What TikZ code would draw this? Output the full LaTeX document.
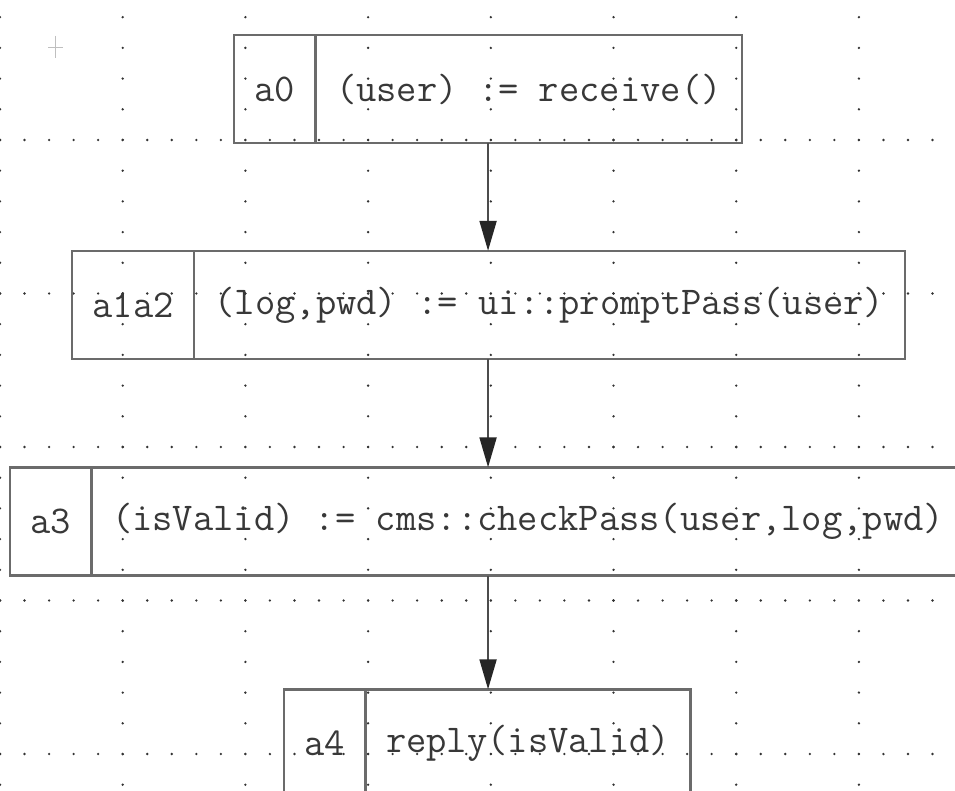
\documentclass[tikz,border=0pt]{standalone}
\usepackage{fontspec}
\usepackage{tikz}
\usetikzlibrary{fit, positioning, arrows.meta}
\newcommand{\cfont}{\ttfamily\fontsize{39.4}{46}\selectfont}

\begin{document}
\begin{tikzpicture}[x=1pt, y=-1pt,
    >={Triangle[length=30pt, width=17pt, color=black!85]},
    box/.style={draw=black!58, line width=2.5pt, outer sep=0pt,
                minimum height=108pt, inner xsep=20.5pt, inner ysep=0pt,
                font=\cfont, text=black!78},
    tagbox/.style={box},
    codebox/.style={box},
    flow/.style={->, draw=black!70, line width=2pt},
    gdot/.style={black!80}]

    \fill[white] (0,0) rectangle (955,791);
    \useasboundingbox (0,0) rectangle (955,791);
    \clip (0,0) rectangle (955,791);

    % grid
    \foreach \i in {0,...,7}
      \foreach \k in {1,...,26}
        \fill[gdot] (\i*122.7, -13.5+\k*30.7) circle (1.3pt);
    \foreach \r in {1,...,5}
      \foreach \j in {0,...,39}
        \fill[gdot] (\j*24.54, -13.5+\r*153.5) circle (1.3pt);
    \draw[black!25, line width=0.8pt] (48,47) -- (63,47) (55,36) -- (55,58);

    % activities
    \node[tagbox, anchor=west] (a0tag) at (234,89) {a0};
    \node[codebox, right=0pt of a0tag] (a0code) {(user) := receive()};
    \node[fit=(a0tag)(a0code), inner sep=0pt] (a0) {};

    \node[tagbox, anchor=west] (a1a2tag) at (72,305) {a1a2};
    \node[codebox, right=0pt of a1a2tag] (a1a2code)
      {(log,pwd) := ui::promptPass(user)};
    \node[fit=(a1a2tag)(a1a2code), inner sep=0pt] (a1a2) {};

    \node[tagbox, anchor=west] (a3tag) at (10,521.5) {a3};
    \node[codebox, right=0pt of a3tag] (a3code)
      {(isValid) := cms::checkPass(user,log,pwd)};
    \node[fit=(a3tag)(a3code), inner sep=0pt] (a3) {};

    \node[tagbox, anchor=west] (a4tag) at (284,743.5) {a4};
    \node[codebox, right=0pt of a4tag] (a4code) {reply(isValid)};
    \node[fit=(a4tag)(a4code), inner sep=0pt] (a4) {};

    % edges, kept on one vertical
    \draw[flow] (a0.south) -- (a1a2.north -| a0.south);
    \draw[flow] (a1a2.south -| a0.south) -- (a3.north -| a0.south);
    \draw[flow] (a3.south -| a0.south) -- (a4.north -| a0.south);
\end{tikzpicture}
\end{document}
